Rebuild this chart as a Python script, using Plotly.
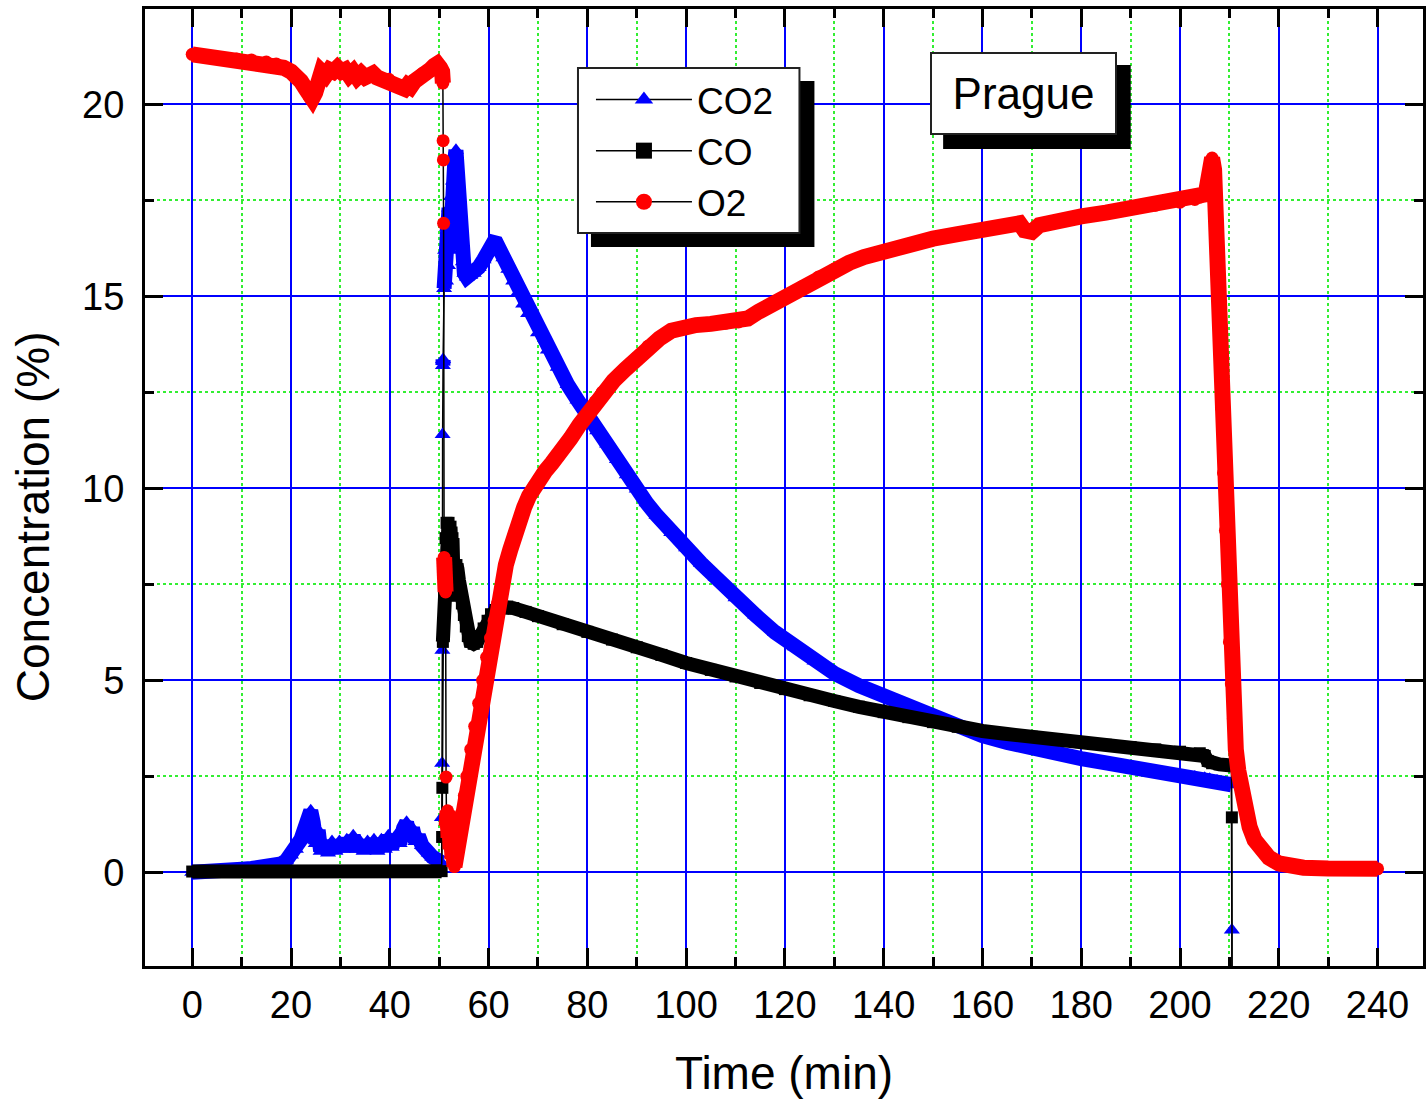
import plotly.graph_objects as go

FONT = "Arial, 'Liberation Sans', sans-serif"

# ---------------- data ----------------
co2_t = [0, 2, 4, 6, 8, 10, 12, 14, 16, 18, 19.0, 20.0, 21.0, 22.0, 22.8, 23.5, 24.0, 24.5, 25.0,
         25.5, 26.0, 26.8, 27.5, 28.3, 29.0, 29.8, 30.5, 31.3, 32.0, 32.6, 33.3, 34.0, 34.7, 35.5,
         36.2, 36.8, 37.5, 38.3, 39.0, 39.7, 40.4, 41.2, 42.0, 42.8, 43.4, 44.0, 44.6, 45.2, 45.8,
         46.5, 47.2, 47.9, 48.6, 49.3, 50.0, 50.5,
         50.55, 50.6, 50.65, 50.7, 50.75, 50.8,
         51.0, 51.2, 51.4, 51.6, 51.8, 52.0, 52.2, 52.4, 52.6, 52.8, 53.0, 53.2, 53.4, 53.6, 53.9,
         54.2, 54.5, 54.8, 55.1, 55.6, 56.3, 57.0, 58.0, 59.0, 60.0, 61.0, 61.6, 62.3, 63.0, 64, 65,
         66, 67, 68, 70, 72, 74, 76, 78, 80, 82, 84, 86, 88, 90, 92, 94, 97, 100, 103, 106, 110,
         114, 118, 122, 126, 130, 135, 140, 145, 150, 155, 160, 165, 170, 175, 180, 185, 190, 195,
         200, 203, 205, 206, 207.5, 209, 210.4, 210.5, 210.55]
co2_v = [0.0, 0.0, 0.02, 0.03, 0.05, 0.08, 0.1, 0.12, 0.15, 0.22, 0.3, 0.45, 0.6, 0.85, 1.15, 1.45,
         1.6, 1.3, 0.75, 1.1, 0.55, 0.75, 0.5, 0.8, 0.55, 0.8, 0.6, 0.85, 0.6, 0.95, 0.6, 0.8, 0.55,
         0.8, 0.6, 0.85, 0.55, 0.85, 0.6, 0.95, 0.65, 0.95, 0.75, 1.15, 1.3, 0.9, 1.15, 0.8, 0.95,
         0.7, 0.65, 0.5, 0.4, 0.35, 0.3, 0.25,
         1.43, 2.84, 5.78, 11.4, 13.2, 13.35,
         15.2, 16.2, 15.4, 16.8, 15.8, 17.3, 16.2, 17.6, 16.6, 18.0, 17.4, 18.6, 18.8, 18.3, 17.6,
         17.0, 16.4, 15.9, 15.6, 15.5, 15.55, 15.6, 15.75, 15.95, 16.2, 16.4, 16.38, 16.2, 16.0,
         15.7, 15.4, 15.1, 14.8, 14.55, 14.05, 13.6, 13.15, 12.7, 12.3, 11.9, 11.5, 11.15, 10.75,
         10.35, 9.98, 9.62, 9.3, 8.85, 8.45, 8.05, 7.68, 7.15, 6.7, 6.25, 5.87, 5.5, 5.18, 4.86,
         4.6, 4.32, 4.05, 3.78, 3.56, 3.38, 3.22, 3.08, 2.96, 2.85, 2.74, 2.63, 2.53, 2.48, 2.45,
         2.42, 2.38, 2.33, 2.28, -1.5, -5.0]

co_t = [0, 10, 20, 30, 40, 50.5,
        50.6, 50.65, 50.75, 50.85, 51.0, 51.15, 51.3, 51.5, 51.7, 51.9, 52.1, 52.3, 52.5, 52.7,
        52.9, 53.1, 53.3, 53.5, 53.7, 54.0, 54.3, 54.6, 55.0, 55.4, 55.8, 56.3, 57.0, 57.7, 58.3,
        59.0, 59.8, 60.5, 61.4, 62.5, 63.8, 65, 67.5, 70, 75, 80, 85, 90, 95, 100, 105, 110, 115,
        120, 125, 130, 135, 140, 145, 150, 155, 160, 165, 170, 175, 180, 185, 190, 195, 200, 204,
        205, 205.6, 206.5, 208, 210.4, 210.5, 210.55]
co_v = [0.02, 0.02, 0.02, 0.02, 0.02, 0.03,
        0.92, 2.2, 6.0, 6.4, 7.2, 8.0, 8.7, 9.1, 8.4, 9.1, 8.3, 9.0, 8.1, 8.7,
        7.6, 8.0, 7.2, 8.0, 7.9, 7.6, 7.3, 7.0, 6.7, 6.4, 6.15, 6.0, 5.95, 6.0, 6.15,
        6.35, 6.55, 6.72, 6.83, 6.9, 6.92, 6.88, 6.78, 6.67, 6.46, 6.26, 6.06, 5.86, 5.66, 5.45,
        5.27, 5.1, 4.93, 4.77, 4.61, 4.46, 4.31, 4.17, 4.04, 3.91, 3.79, 3.68, 3.6, 3.53, 3.46,
        3.39, 3.32, 3.26, 3.2, 3.14, 3.1, 3.03, 2.9, 2.84, 2.81, 2.78, 1.43, -5.0]

o2_t = [0, 3, 6, 9, 12, 15, 17, 18.5, 20, 21, 22, 23, 23.7, 24.3, 24.9, 25.5, 26.2, 27, 27.8, 28.6,
        29.4, 30.2, 31, 31.8, 32.6, 33.4, 34.2, 35, 35.8, 36.6, 37.4, 38.2, 39, 39.8, 40.6, 41.4,
        42.2, 43, 43.6, 44.2, 45, 45.8, 46.6, 47.4, 48.2, 49, 49.6, 50.2, 50.6, 50.75,
        50.8, 50.85, 50.9, 51.0, 51.1, 51.2, 51.3, 51.4,
        51.5, 51.7, 51.9, 52.1, 52.3, 52.5, 52.7, 52.9, 53.1, 53.3, 53.6, 54.1, 54.6, 55.1, 55.6,
        56.4, 57.2, 58.0, 58.8, 59.6, 60.4, 61.1, 61.8, 62.7, 63.5, 64.4, 65.2, 66.2, 67.2, 68.2,
        69.2, 70.3, 71.5, 72.8, 74.2, 75.4, 76.6, 78.4, 80.3, 81.6, 83, 85.3, 87.7, 90, 92.3, 94.6,
        97, 99.5, 102, 105, 108, 110.6, 112.5, 114.7, 117.5, 120.7, 123.5, 126.8, 130, 133, 136,
        140, 145, 150, 155, 160, 165, 167.5, 168.5, 170, 171.5, 175, 180, 185, 190, 195, 200, 203,
        204, 205, 205.4, 205.8, 206.1, 206.5, 206.9, 207.2, 207.6, 208.0, 208.4, 208.8, 209.2,
        209.6, 210.0, 210.4, 210.8, 211.3, 211.8, 212.4, 213.2, 214.1, 215.1, 216.5, 218, 220, 222,
        225, 230, 235, 240]
o2_v = [21.3, 21.25, 21.2, 21.18, 21.15, 21.1, 21.05, 20.95, 20.85, 20.75, 20.6, 20.4, 20.2, 20.15,
        20.3, 20.6, 20.85, 20.75, 20.9, 20.85, 20.95, 20.85, 20.9, 20.75, 20.85, 20.7, 20.8, 20.7,
        20.75, 20.8, 20.7, 20.65, 20.6, 20.65, 20.55, 20.5, 20.45, 20.4, 20.5, 20.45, 20.6, 20.65,
        20.8, 20.85, 20.9, 21.0, 21.05, 20.95, 20.85, 20.55,
        19.05, 18.55, 16.9, 8.2, 7.95, 7.6, 7.3, 2.48,
        1.2, 1.6, 0.9, 1.35, 0.6, 1.0, 0.35, 0.55, 0.15, 0.3, 0.6, 1.05, 1.5, 2.0, 2.5,
        3.2, 3.8, 4.4, 5.0, 5.6, 6.1, 6.55, 7.0, 7.5, 8.0, 8.4, 8.8, 9.15, 9.5, 9.8,
        10.05, 10.25, 10.45, 10.65, 10.85, 11.07, 11.3, 11.65, 12.0, 12.25, 12.5, 12.8, 13.1, 13.4,
        13.7, 13.9, 14.1, 14.2, 14.25, 14.28, 14.3, 14.33, 14.42, 14.6, 14.8, 15.0, 15.25, 15.5,
        15.7, 15.87, 16.02, 16.18, 16.35, 16.5, 16.62, 16.75, 16.86, 16.9, 16.72, 16.68, 16.85,
        16.97, 17.08, 17.18, 17.28, 17.37, 17.45, 17.52, 17.58, 17.65, 17.8, 18.0, 18.4, 18.6,
        18.3, 17.1, 15.5, 13.8, 12.1, 10.4, 8.9, 7.5, 6.0, 4.9, 4.0, 3.2, 2.65, 2.15, 1.62, 1.18,
        0.84, 0.58, 0.38, 0.23, 0.16, 0.12, 0.1, 0.1, 0.09]

series = [
    ("CO2", co2_t, co2_v, "#0000ff", "triangle-up", 14, 15),
    ("CO", co_t, co_v, "#000000", "square", 12, 14),
    ("O2", o2_t, o2_v, "#ff0000", "circle", 13, 16),
]


def band(t, v, max_rate=8.5):
    """Continuous part of a record: consecutive samples are joined only where
    the signal changes slowly (fast transients stay as separate samples)."""
    bx, by = [t[0]], [v[0]]
    for i in range(1, len(t)):
        dt = t[i] - t[i - 1]
        if dt > 0 and abs(v[i] - v[i - 1]) / dt > max_rate:
            bx.append(None)
            by.append(None)
        bx.append(t[i])
        by.append(v[i])
    return bx, by


fig = go.Figure()
for name, t, v, col, sym, msize, bw in series:
    # samples joined by a thin black line
    fig.add_trace(go.Scatter(x=t, y=v, mode="lines+markers", showlegend=False,
                             line=dict(color="black", width=1.5),
                             marker=dict(symbol=sym, size=msize, color=col, line=dict(width=0)),
                             hoverinfo="skip"))
    bx, by = band(t, v)
    fig.add_trace(go.Scatter(x=bx, y=by, mode="lines", showlegend=False, connectgaps=False,
                             line=dict(color=col, width=bw), hoverinfo="skip"))

for name, t, v, col, sym, msize, bw in series:
    fig.add_trace(go.Scatter(x=[None], y=[None], mode="lines+markers", name=name,
                             line=dict(color="black", width=1.5),
                             marker=dict(symbol=sym, size=16, color=col, line=dict(width=0))))

# ---------------- layout ----------------
L, R, T, B = 145, 0, 9, 133
W, H = 1426, 1099
pw, ph = W - L - R, H - T - B


def px(xp):
    return (xp - L) / pw


def py(yp):
    return (H - B - yp) / ph


axis_common = dict(
    showline=True, linewidth=3, linecolor="black", mirror="ticks",
    ticks="inside", ticklen=18, tickwidth=3, tickcolor="black",
    showgrid=True, gridcolor="#0000ff", gridwidth=1.5, zeroline=False,
    tickfont=dict(family=FONT, size=38, color="black"),
)

fig.update_layout(
    width=W, height=H,
    margin=dict(l=L, r=R, t=T, b=B, pad=0),
    paper_bgcolor="white", plot_bgcolor="white",
    font=dict(family=FONT, color="black"),
    xaxis=dict(range=[-9.56, 249.2], tick0=0, dtick=20, ticklabelstandoff=3,
               minor=dict(tick0=0, dtick=10, ticks="inside", ticklen=9, tickwidth=3,
                          tickcolor="black", showgrid=True, gridcolor="#33ee33",
                          griddash="dot", gridwidth=1.5),
               **axis_common),
    yaxis=dict(range=[-2.44, 22.48], tick0=0, dtick=5, ticklabelstandoff=10,
               minor=dict(tick0=0, dtick=2.5, ticks="inside", ticklen=9, tickwidth=3,
                          tickcolor="black", showgrid=True, gridcolor="#33ee33",
                          griddash="dot", gridwidth=1.5),
               **axis_common),
    legend=dict(x=px(592), y=py(69), xanchor="left", yanchor="top",
                bgcolor="rgba(0,0,0,0)", borderwidth=0,
                font=dict(family=FONT, size=37, color="black"),
                itemwidth=96, tracegroupgap=0),
    shapes=[
        # legend frame and its shadow
        dict(type="rect", xref="paper", yref="paper", x0=px(592), x1=px(816), y0=py(247), y1=py(81),
             fillcolor="black", line=dict(width=0), layer="above"),
        dict(type="rect", xref="paper", yref="paper", x0=px(579), x1=px(801), y0=py(233), y1=py(68),
             fillcolor="white", line=dict(width=2, color="#222"), layer="above"),
        # "Prague" box shadow
        dict(type="rect", xref="paper", yref="paper", x0=px(945), x1=px(1133), y0=py(149), y1=py(65),
             fillcolor="black", line=dict(width=0), layer="above"),
    ],
    annotations=[
        dict(text="Prague", xref="paper", yref="paper", x=px(1025.5), y=py(93.5),
             xanchor="center", yanchor="middle", showarrow=False,
             font=dict(family=FONT, size=44, color="black"),
             bgcolor="white", bordercolor="#222", borderwidth=2, borderpad=0,
             width=183, height=79),
        dict(text="Time (min)", xref="paper", yref="paper", x=px(786), y=py(1073),
             xanchor="center", yanchor="middle", showarrow=False,
             font=dict(family=FONT, size=46, color="black")),
        dict(text="Concentration (%)", xref="paper", yref="paper", x=px(33), y=py(517),
             xanchor="center", yanchor="middle", showarrow=False, textangle=-90,
             font=dict(family=FONT, size=46, color="black")),
    ],
)

fig.write_html("out.html")
